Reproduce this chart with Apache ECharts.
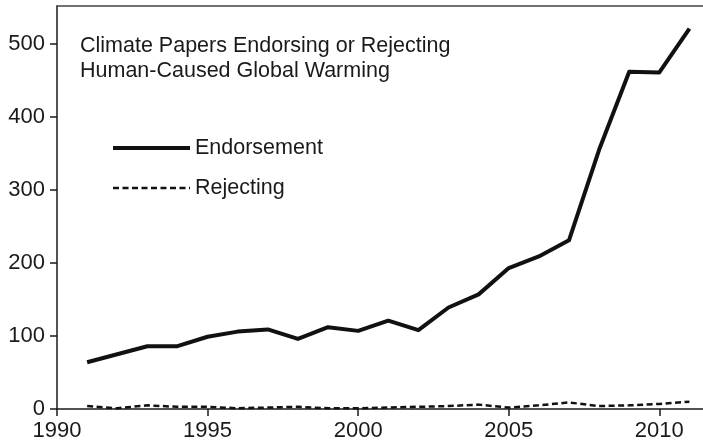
<!DOCTYPE html>
<html>
<head>
<meta charset="utf-8">
<script src="https://cdn.jsdelivr.net/npm/echarts@6/dist/echarts.min.js"></script>
<style>
html,body{margin:0;padding:0;background:#fff;}
#chart{width:703px;height:445px;}
</style>
</head>
<body>
<div id="chart"></div>
<script>
var years = [1991,1992,1993,1994,1995,1996,1997,1998,1999,2000,2001,2002,2003,2004,2005,2006,2007,2008,2009,2010,2011];
var endorsement = [64,75,86,86,99,106,109,96,112,107,121,108,139,157,193,209,231,355,462,461,521];
var rejecting = [4,1,5,3,3,1,2,3,1,1,2,3,4,6,2,5,9,4,5,7,10];
var xTicks = [1990,1995,2000,2005,2010];
var yTicks = [0,100,200,300,400,500];
var titleLines = ['Climate Papers Endorsing or Rejecting','Human-Caused Global Warming'];

var font = '"Liberation Sans", Arial, Helvetica, sans-serif';
var ink = '#1a1a1a';
function pairs(xs, ys){ return xs.map(function(x,i){ return [x, ys[i]]; }); }

var chart = echarts.init(document.getElementById('chart'), null, {renderer:'canvas'});
chart.setOption({
  animation:false,
  backgroundColor:'#fff',
  textStyle:{fontFamily:font},
  title:{
    text: titleLines.join('\n'),
    left: 75, top: 29,
    textStyle:{fontFamily:font, fontSize:21.5, fontWeight:'normal', color:ink, lineHeight:25}
  },
  legend:{
    orient:'vertical',
    left: 106, top: 132,
    padding: 5,
    itemWidth: 77, itemHeight: 20, itemGap: 18,
    itemStyle:{opacity:0},
    textStyle:{fontFamily:font, fontSize:21.5, color:ink},
    data:[
      {name:'Endorsement', lineStyle:{width:4}},
      {name:'Rejecting', lineStyle:{width:2.5}}
    ]
  },
  grid:{left:57, right:0, top:6, bottom:36, containLabel:false},
  xAxis:[{
    type:'value', min:1990, max:2011.45,
    axisLine:{show:true, lineStyle:{color:ink, width:1.5}},
    axisTick:{show:true, length:7, inside:false, customValues:xTicks, lineStyle:{color:ink, width:1.5}},
    axisLabel:{customValues:xTicks, formatter:function(v){return String(v);}, fontFamily:font, fontSize:22, color:ink, margin:11},
    splitLine:{show:false}
  },{
    type:'value', position:'top', min:1990, max:2011.45,
    axisLine:{show:true, lineStyle:{color:'#444', width:1.5}},
    axisTick:{show:false}, axisLabel:{show:false}, splitLine:{show:false}
  }],
  yAxis:{
    type:'value', min:0, max:552,
    axisLine:{show:true, lineStyle:{color:ink, width:1.5}},
    axisTick:{show:true, length:7, customValues:yTicks, lineStyle:{color:ink, width:1.5}},
    axisLabel:{customValues:yTicks, formatter:function(v){return String(v);}, fontFamily:font, fontSize:22, color:ink, margin:12},
    splitLine:{show:false}
  },
  series:[{
    name:'Endorsement', type:'line', symbol:'none',
    data: pairs(years, endorsement),
    lineStyle:{color:'#111', width:4, join:'round'},
    itemStyle:{color:'#111'}
  },{
    name:'Rejecting', type:'line', symbol:'none',
    data: pairs(years, rejecting),
    lineStyle:{color:'#111', width:2.5, type:[6,3.5]},
    itemStyle:{color:'#111'}
  }]
});
</script>
</body>
</html>
